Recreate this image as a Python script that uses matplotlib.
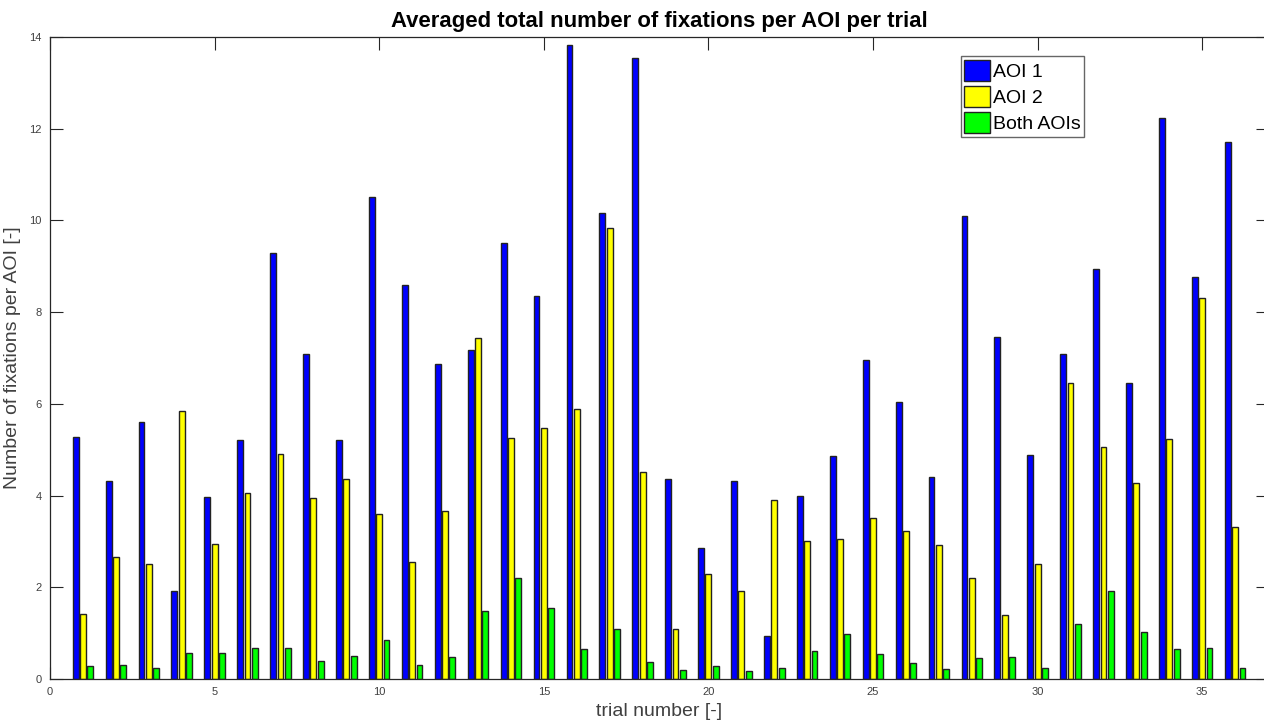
import numpy as np
import matplotlib.pyplot as plt

plt.rcParams['font.family'] = ['Liberation Sans', 'DejaVu Sans']

trials = np.arange(1, 37)
aoi1 = [5.28, 4.31, 5.60, 1.91, 3.97, 5.22, 9.29, 7.09, 5.22, 10.51,
        8.60, 6.86, 7.18, 9.51, 8.35, 13.83, 10.17, 13.55, 4.37, 2.86,
        4.31, 0.94, 4.00, 4.86, 6.95, 6.03, 4.40, 10.09, 7.45, 4.89,
        7.09, 8.95, 6.46, 12.23, 8.77, 11.72]
aoi2 = [1.42, 2.65, 2.51, 5.85, 2.95, 4.05, 4.91, 3.94, 4.37, 3.59,
        2.54, 3.66, 7.43, 5.26, 5.48, 5.88, 9.83, 4.51, 1.08, 2.28,
        1.91, 3.91, 3.00, 3.05, 3.51, 3.22, 2.92, 2.20, 1.40, 2.51,
        6.46, 5.05, 4.28, 5.23, 8.31, 3.32]
both = [0.28, 0.31, 0.25, 0.57, 0.57, 0.68, 0.68, 0.39, 0.51, 0.85,
        0.31, 0.48, 1.48, 2.20, 1.54, 0.65, 1.08, 0.37, 0.20, 0.28,
        0.17, 0.25, 0.62, 0.97, 0.54, 0.34, 0.22, 0.46, 0.48, 0.25,
        1.20, 1.91, 1.03, 0.65, 0.68, 0.25]

series = [(aoi1, '#0000ff', 'AOI 1'), (aoi2, '#ffff00', 'AOI 2'), (both, '#00ff00', 'Both AOIs')]

fig = plt.figure(figsize=(12.64, 7.21), dpi=100)
# axes runs slightly past the right edge of the figure, as in the original crop
ax = fig.add_axes([0.0396, 0.0583, 0.9636, 0.8904])

step = 0.222
width = 0.178
for k, (vals, col, lab) in enumerate(series):
    ax.bar(trials + (k - 1) * step, vals, width=width, color=col,
           edgecolor='#222222', linewidth=1.0, label=lab, zorder=2)

ax.set_xlim(0, 37)
ax.set_ylim(0, 14)
ax.set_xticks(np.arange(0, 36, 5))
ax.set_yticks(np.arange(0, 15, 2))
ax.tick_params(direction='in', length=9, width=0.8, top=True, right=True,
               labelsize=8, colors='#262626', labelcolor='#404040', pad=6)
for s in ax.spines.values():
    s.set_color('#262626')
    s.set_linewidth(0.9)

ax.set_title('Averaged total number of fixations per AOI per trial',
             fontsize=15.9, fontweight='bold', pad=7)
ax.set_xlabel('trial number [-]', fontsize=14, color='#404040', labelpad=4)
ax.set_ylabel('Number of fixations per AOI [-]', fontsize=14, color='#404040', labelpad=6)

leg = ax.legend(loc='upper left', bbox_to_anchor=(0.7475, 0.97), fontsize=14,
                fancybox=False, framealpha=1, edgecolor='#666666',
                handlelength=1.3, handleheight=1.25, handletextpad=0.15,
                borderpad=0.2, labelspacing=0.27, borderaxespad=0)
leg.get_frame().set_linewidth(1.0)

fig.savefig('out.png', dpi=100)
